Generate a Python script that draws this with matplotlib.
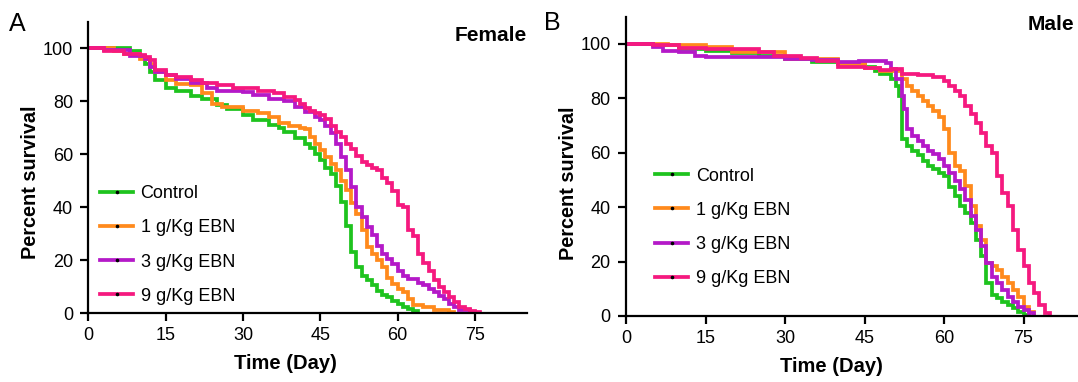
import matplotlib
matplotlib.use("Agg")
import matplotlib.pyplot as plt
from matplotlib.lines import Line2D

plt.rcParams['font.family'] = ['Liberation Sans', 'DejaVu Sans']

groups = ["Control", "1 g/Kg EBN", "3 g/Kg EBN", "9 g/Kg EBN"]
colors = ["#1ec31e", "#ff8a1c", "#b419c8", "#f5197f"]
x_ticks = [0, 15, 30, 45, 60, 75]
y_ticks = [0, 20, 40, 60, 80, 100]

# ---- Panel A (Female) ----
a_ctrl_day = [0, 8, 10, 11, 12, 13, 15, 17, 20, 22, 25, 27, 30, 32, 35, 37, 38, 40, 42, 43, 44, 45, 46, 47, 48, 49, 50, 51, 52, 53, 54, 55, 56, 57, 58, 59, 60, 61, 62, 63, 64]
a_ctrl_pct = [100, 99, 97, 94, 91, 88, 85, 84, 82, 81, 78.5, 77, 75, 73, 71, 70, 68.5, 66, 64, 62.5, 60, 58, 55, 52.5, 48, 42, 33, 23, 17.5, 14, 12.5, 10.5, 8.5, 7, 6, 4.5, 3.5, 2.5, 1.5, 1, 0]

a_g1_day = [0, 5, 7, 10, 12, 13, 15, 17, 20, 22, 24, 26, 30, 33, 35, 37, 39, 41, 42, 43, 44, 45, 46, 47, 48, 49, 50, 51, 52, 53, 54, 55, 56, 57, 58, 59, 60, 61, 62, 63, 65, 67, 70, 71]
a_g1_pct = [100, 99, 98, 96, 94, 91, 88, 86.5, 86, 83, 79, 78, 76.5, 75.5, 74, 72, 70.5, 70, 69.5, 66.5, 64, 61.5, 59, 56.5, 54, 50, 46.5, 41.5, 37.5, 31.5, 25, 22.5, 20, 17.5, 13.5, 11, 9, 8, 5.5, 3, 2.3, 1.3, 0.6, 0]

a_g3_day = [0, 3, 8, 11, 12, 13, 15, 17, 20, 23, 25, 30, 32, 35, 38, 40, 42, 44, 45, 46, 47, 48, 49, 50, 51, 52, 53, 54, 55, 56, 57, 58, 59, 60, 61, 62, 64, 65, 66, 67, 68, 69, 70, 71, 72, 74, 75]
a_g3_pct = [100, 99.5, 97, 96, 93, 91, 90, 88.5, 87, 85, 84, 83.5, 82.5, 81, 80, 78, 76, 74, 73, 70.5, 68, 64, 59, 54, 47.5, 40, 36.5, 32.5, 29.5, 25.5, 22.5, 20.5, 18.5, 16, 14, 13, 11.5, 10.5, 9, 8, 6.5, 5.5, 3.5, 2.5, 1.3, 0.5, 0]

a_g9_day = [0, 3, 7, 10, 11, 12, 13, 15, 17, 20, 22, 25, 28, 30, 33, 36, 38, 40, 41, 42, 43, 44, 45, 46, 47, 48, 49, 50, 51, 52, 53, 54, 55, 56, 57, 58, 59, 60, 61, 62, 63, 64, 65, 66, 67, 68, 69, 70, 71, 72, 73, 74, 75, 76]
a_g9_pct = [100, 99, 98, 97.5, 96.8, 95.5, 92, 90, 89, 88, 87, 86, 85.2, 85, 84, 83, 81.7, 80.5, 79, 77.3, 76.3, 75.4, 74.8, 73.5, 70.5, 68.5, 66.5, 64, 62, 59.5, 57, 56, 55, 54, 51, 49, 46, 41, 40, 31.5, 29, 22.5, 19, 16, 12.5, 10, 8, 6, 4.2, 2.3, 1.6, 1, 0.4, 0]

# ---- Panel B (Male) ----
b_ctrl_day = [0, 5, 10, 15, 20, 25, 30, 35, 40, 45, 47, 48, 50, 51, 51.5, 52, 53, 54, 55, 56, 57, 58, 59, 60, 61, 62, 63, 64, 65, 66, 67, 68, 69, 70, 71, 72, 73, 74, 75, 76]
b_ctrl_pct = [100, 99.5, 98.2, 97.5, 96.5, 95.5, 94.5, 93.5, 92.6, 91.4, 90, 89, 87, 84.5, 81, 65, 62.5, 60.5, 59, 57, 55, 54, 52.5, 51.5, 47.5, 44, 40.5, 38, 34, 28, 22, 12, 7.7, 6.5, 5.3, 4, 2.8, 1.6, 0.5, 0]

b_g1_day = [0, 8, 15, 20, 30, 40, 45, 48, 52, 53, 54, 55, 56, 57, 58, 59, 60, 61, 62, 63, 64, 65, 66, 67, 68, 69, 70, 71, 72, 73, 74, 75, 76, 77]
b_g1_pct = [100, 99.5, 99, 97, 94.5, 92.5, 91, 90, 87, 84.5, 82.8, 81, 79, 77.2, 75.4, 73, 68.6, 60, 55, 53.3, 47.7, 40.3, 33, 28, 19.4, 18.2, 17, 14.5, 12, 9.6, 7.1, 3.4, 1.5, 0]

b_g3_day = [0, 5, 7, 10, 13, 15, 25, 30, 35, 40, 44, 49, 50, 51, 52, 52.5, 53, 54, 55, 56, 57, 58, 59, 60, 61, 62, 63, 64, 65, 66, 67, 68, 69, 70, 71, 72, 73, 74, 75, 76, 77]
b_g3_pct = [100, 99, 97.5, 96.9, 95.7, 95.2, 95.2, 94.5, 94, 93.5, 93.8, 93, 90.8, 87, 81, 76, 68.6, 66.2, 64.3, 62.5, 60.6, 59.4, 57.6, 55, 52.6, 49.6, 46.5, 42.8, 36.7, 31.7, 25.6, 19.4, 14.5, 12, 9.6, 7.1, 5.3, 3.4, 2.2, 1, 0]

b_g9_day = [0, 5, 10, 15, 20, 25, 28, 30, 33, 36, 40, 45, 48, 50, 52, 55, 58, 59, 60, 61, 62, 63, 64, 65, 66, 67, 68, 69, 70, 71, 72, 73, 74, 75, 76, 77, 78, 79, 80]
b_g9_pct = [100, 99.5, 98.5, 98, 98, 97, 95.7, 95.5, 95, 93.8, 91.4, 91, 90.5, 90.8, 89, 88.6, 88, 87.7, 86.5, 84.6, 82.8, 81, 77.2, 74.2, 71, 67.4, 62.5, 60, 51.4, 45.3, 40.3, 31.7, 24.4, 18.2, 12, 8.4, 4, 1, 0]

panel_a = [(a_ctrl_day, a_ctrl_pct), (a_g1_day, a_g1_pct), (a_g3_day, a_g3_pct), (a_g9_day, a_g9_pct)]
panel_b = [(b_ctrl_day, b_ctrl_pct), (b_g1_day, b_g1_pct), (b_g3_day, b_g3_pct), (b_g9_day, b_g9_pct)]

W, H = 1078, 382
fig = plt.figure(figsize=(W / 100, H / 100), dpi=100)

def px_axes(x0, x1, y_top, y_bot):
    return fig.add_axes([x0 / W, 1 - y_bot / H, (x1 - x0) / W, (y_bot - y_top) / H])

axA = px_axes(88.3, 526.5, 21.8, 313.3)
axB = px_axes(626.0, 1076.5, 16.7, 316.0)

LW = 2.7
for ax, data, xlab_x, ylab_y, leg_xy in [
        (axA, panel_a, 0.449, 0.451, (0.0267, 0.439)),
        (axB, panel_b, 0.457, 0.443, (0.0644, 0.496))]:
    for (d, p), c in zip(data, colors):
        ax.step(d, p, where='post', color=c, lw=LW, solid_joinstyle='miter')
    ax.set_xlim(0, 85)
    ax.set_ylim(0, 110)
    ax.set_xticks(x_ticks)
    ax.set_yticks(y_ticks)
    for s in ['top', 'right']:
        ax.spines[s].set_visible(False)
    for s in ['left', 'bottom']:
        ax.spines[s].set_linewidth(1.6)
    ax.tick_params(axis='both', direction='out', length=6, width=1.6, labelsize=13, colors='black')
    ax.tick_params(axis='x', pad=4)
    ax.tick_params(axis='y', pad=5)
    ax.set_xlabel("Time (Day)", fontsize=14.5, fontweight='bold', labelpad=7)
    ax.set_ylabel("Percent survival", fontsize=14.3, fontweight='bold', labelpad=2)
    ax.xaxis.label.set_x(xlab_x)
    ax.yaxis.label.set_y(ylab_y)
    handles = [Line2D([], [], color=c, lw=LW, marker='o', markersize=1.6,
                      markerfacecolor='black', markeredgecolor='black')
               for c in colors]
    ax.legend(handles, groups, loc='upper left', bbox_to_anchor=leg_xy,
              frameon=False, fontsize=13, handlelength=1.85, handletextpad=0.4,
              labelspacing=0.95, borderpad=0, borderaxespad=0, numpoints=1)

fig.text(527 / W, 1 - 35.7 / H, "Female", ha='right', va='center', fontsize=15, fontweight='bold')
fig.text(1074 / W, 1 - 24 / H, "Male", ha='right', va='center', fontsize=15, fontweight='bold')
fig.text(9 / W, 1 - 24 / H, "A", ha='left', va='center', fontsize=18)
fig.text(544 / W, 1 - 22.5 / H, "B", ha='left', va='center', fontsize=18)

fig.savefig("out.png", dpi=100)
